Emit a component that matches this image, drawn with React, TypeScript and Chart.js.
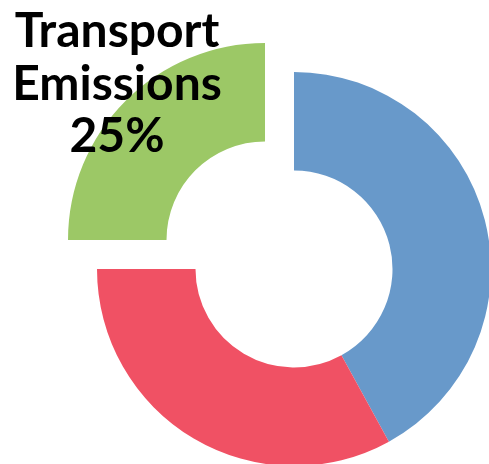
import React, { useEffect, useRef } from "react";
import { Chart, registerables } from "chart.js";

Chart.register(...registerables);

const categories = ["Other", "Energy", "Transport Emissions"];
const values = [42, 33, 25];
const colors = ["#6899ca", "#f05164", "#9cc866"];
const offsets = [0, 0, 164];
const titleLines = ["Transport", "Emissions", "25%"];

const textPlugin = {
  id: "cornerText",
  afterDraw(chart: any) {
    const ctx = chart.ctx;
    ctx.save();
    ctx.fillStyle = "#000";
    ctx.font = "bold 48px Lato";
    ctx.textAlign = "center";
    ctx.textBaseline = "alphabetic";
    const baselines = [47, 100, 152];
    titleLines.forEach((t, i) => ctx.fillText(t, 117, baselines[i]));
    ctx.restore();
  },
};

export default function App() {
  const ref = useRef<HTMLCanvasElement>(null);
  useEffect(() => {
    if (!ref.current) return;
    const chart = new Chart(ref.current, {
      type: "doughnut",
      data: {
        labels: categories,
        datasets: [
          {
            data: values,
            backgroundColor: colors,
            borderWidth: 0,
            offset: offsets,
            clip: false,
          } as any,
        ],
      },
      options: {
        responsive: false,
        animation: false,
        cutout: "50%",
        radius: 197,
        layout: { padding: { left: 99, top: 74, right: 0, bottom: 0 } },
        plugins: {
          legend: { display: false },
          tooltip: { enabled: false },
          title: { display: false },
        },
      },
      plugins: [textPlugin],
    });
    return () => chart.destroy();
  }, []);
  return (
    <div style={{ position: "fixed", left: 0, top: 0, width: 489, height: 464, overflow: "hidden", background: "#fff" }}>
      <canvas ref={ref} width={489} height={464} style={{ width: 489, height: 464, display: "block" }} />
    </div>
  );
}
